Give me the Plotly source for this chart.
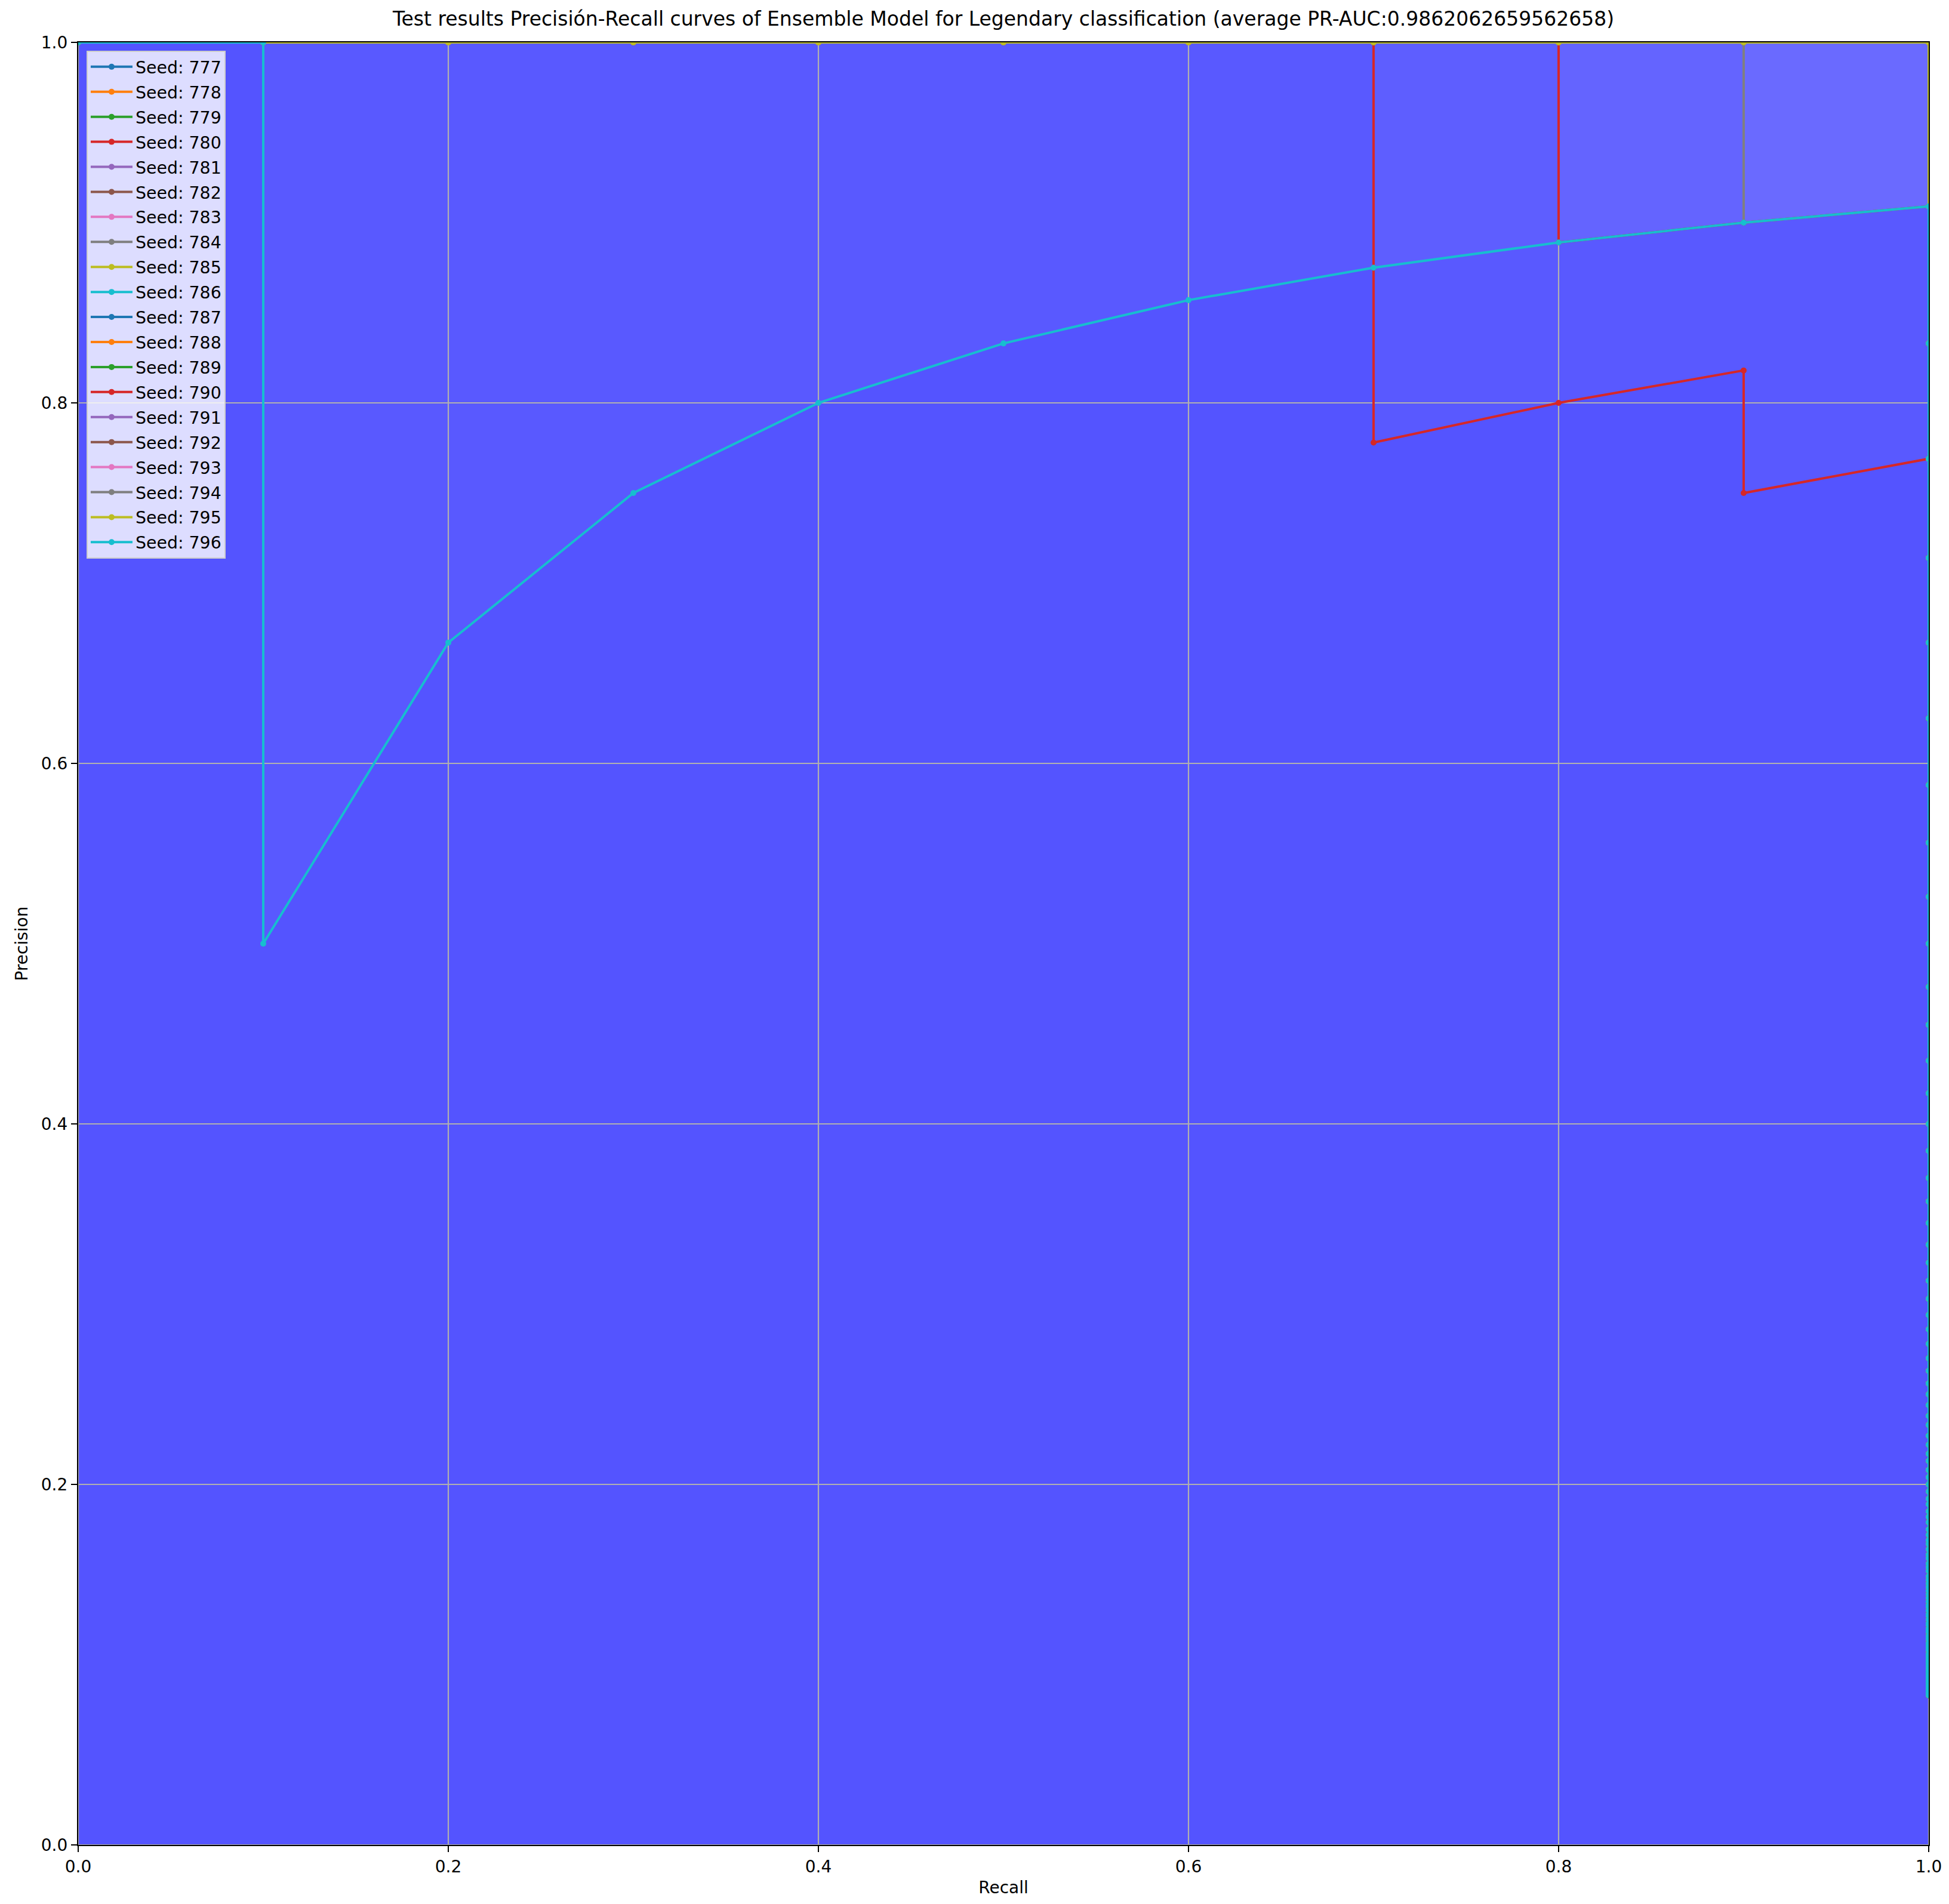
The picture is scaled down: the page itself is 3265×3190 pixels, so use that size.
import plotly.graph_objects as go

# ---------------- data ----------------
SEEDS = [777, 778, 779, 780, 781, 782, 783, 784, 785, 786,
         787, 788, 789, 790, 791, 792, 793, 794, 795, 796]

# curve shapes (recall, precision)
PERFECT_R = [0.0, 0.1, 0.2, 0.3, 0.4, 0.5, 0.6, 0.7, 0.8, 0.9, 1.0]
PERFECT_P = [1.0, 1.0, 1.0, 1.0, 1.0, 1.0, 1.0, 1.0, 1.0, 1.0, 1.0]

CYAN_R = [0.0, 0.1, 0.1, 0.2, 0.3, 0.4, 0.5, 0.6, 0.7, 0.8, 0.9, 1.0]
CYAN_P = [1.0, 1.0, 0.5, 0.667, 0.75, 0.8, 0.833, 0.857, 0.875, 0.889, 0.9, 0.909]

RED_A_R = [0.0, 0.1, 0.2, 0.3, 0.4, 0.5, 0.6, 0.7, 0.7, 0.7, 0.8, 0.9, 0.9, 1.0]
RED_A_P = [1.0, 1.0, 1.0, 1.0, 1.0, 1.0, 1.0, 1.0, 0.875, 0.778, 0.8, 0.818, 0.75, 0.769]

RED_B_R = [0.0, 0.1, 0.2, 0.3, 0.4, 0.5, 0.6, 0.7, 0.8, 0.8, 0.9, 1.0]
RED_B_P = [1.0, 1.0, 1.0, 1.0, 1.0, 1.0, 1.0, 1.0, 1.0, 0.889, 0.9, 0.909]

GRAY_R = [0.0, 0.1, 0.2, 0.3, 0.4, 0.5, 0.6, 0.7, 0.8, 0.9, 0.9, 1.0]
GRAY_P = [1.0, 1.0, 1.0, 1.0, 1.0, 1.0, 1.0, 1.0, 1.0, 1.0, 0.9, 0.909]

# precision values at recall 1.0 once every positive has been found
TAIL_P = [0.909, 0.833, 0.769, 0.714, 0.667, 0.625, 0.588, 0.556, 0.526, 0.5,
          0.476, 0.455, 0.435, 0.417, 0.4, 0.385, 0.370, 0.357, 0.345, 0.333,
          0.323, 0.313, 0.303, 0.294, 0.286, 0.278, 0.270, 0.263, 0.256, 0.25,
          0.244, 0.238, 0.233, 0.227, 0.222, 0.217, 0.213, 0.208, 0.204, 0.2,
          0.196, 0.192, 0.189, 0.185, 0.182, 0.179, 0.175, 0.172, 0.169, 0.167,
          0.164, 0.161, 0.159, 0.156, 0.154, 0.152, 0.149, 0.147, 0.145, 0.143,
          0.141, 0.139, 0.137, 0.135, 0.133, 0.132, 0.130, 0.128, 0.127, 0.125,
          0.123, 0.122, 0.120, 0.119, 0.118, 0.116, 0.115, 0.114, 0.112, 0.111,
          0.110, 0.109, 0.108, 0.106, 0.105, 0.104, 0.103, 0.102, 0.101, 0.1,
          0.099, 0.098, 0.097, 0.096, 0.095, 0.094, 0.093, 0.093, 0.092, 0.091,
          0.090, 0.089, 0.088, 0.088, 0.087, 0.086, 0.085, 0.085, 0.084, 0.083]

SHAPES = {"perfect": (PERFECT_R, PERFECT_P), "cyan": (CYAN_R, CYAN_P),
          "red_a": (RED_A_R, RED_A_P), "red_b": (RED_B_R, RED_B_P),
          "gray": (GRAY_R, GRAY_P)}
SEED_SHAPE = {780: "red_a", 790: "red_b", 794: "gray", 796: "cyan"}

TICKS = [0.0, 0.2, 0.4, 0.6, 0.8, 1.0]
TITLE = ("Test results Precisión-Recall curves of Ensemble Model for Legendary "
         "classification (average PR-AUC:0.9862062659562658)")

# ---------------- style ----------------
TAB10 = ["#1f77b4", "#ff7f0e", "#2ca02c", "#d62728", "#9467bd",
         "#8c564b", "#e377c2", "#7f7f7f", "#bcbd22", "#17becf"]
FONT = "DejaVu Sans"
W, H = 3265, 3190
ML, MR, MT, MB = 123, 42, 63, 107


def curve(seed):
    r, p = SHAPES[SEED_SHAPE.get(seed, "perfect")]
    last = p[-1]
    tail = [v for v in TAIL_P if v < last - 1e-9]
    return list(r) + [1.0] * len(tail), list(p) + tail


fig = go.Figure()

# fills (under grid)
for s in SEEDS:
    x, y = curve(s)
    fig.add_trace(go.Scatter(x=x, y=y, mode="none", fill="tozeroy",
                             fillcolor="rgba(0,0,255,0.05)",
                             showlegend=False, hoverinfo="skip"))

# grid (above fills, below lines)
gx, gy = [], []
for t in TICKS:
    gx += [t, t, None]
    gy += [0, 1, None]
for t in TICKS:
    gx += [0, 1, None]
    gy += [t, t, None]
fig.add_trace(go.Scatter(x=gx, y=gy, mode="lines",
                         line=dict(color="#b0b0b0", width=2.2),
                         showlegend=False, hoverinfo="skip"))

# lines with markers
for i, s in enumerate(SEEDS):
    x, y = curve(s)
    c = TAB10[i % 10]
    fig.add_trace(go.Scatter(x=x, y=y, mode="lines+markers", name=f"Seed: {s}",
                             legendgroup=f"g{s}",
                             line=dict(color=c, width=4),
                             marker=dict(color=c, size=10)))

axis_common = dict(range=[0, 1], tickvals=TICKS, tickformat=".1f",
                   showgrid=False, zeroline=False, showline=True, mirror=True,
                   linecolor="black", linewidth=2.2, ticks="outside",
                   ticklen=10, tickwidth=2.2, tickcolor="black",
                   tickfont=dict(family=FONT, size=28, color="black"))

fig.update_layout(
    width=W, height=H,
    margin=dict(l=ML, r=MR, t=MT, b=MB, pad=0),
    paper_bgcolor="white", plot_bgcolor="white",
    font=dict(family=FONT, size=28, color="black"),
    title=dict(text=TITLE, x=0.5, xref="paper", xanchor="center",
               y=1 - 23 / H, yref="container", yanchor="middle",
               font=dict(family=FONT, size=33, color="black")),
    xaxis=dict(**axis_common, title=dict(text="Recall", standoff=10,
               font=dict(family=FONT, size=28, color="black"))),
    yaxis=dict(**axis_common, title=dict(text="Precision", standoff=14,
               font=dict(family=FONT, size=28, color="black"))),
    legend=dict(x=0.0045, y=0.9954, xanchor="left", yanchor="top",
                bgcolor="rgba(255,255,255,0.8)", bordercolor="#cccccc",
                borderwidth=2, font=dict(family=FONT, size=28.4, color="black"),
                itemwidth=70, tracegroupgap=2, traceorder="grouped"),
    showlegend=True,
)

fig.write_html("out.html")
